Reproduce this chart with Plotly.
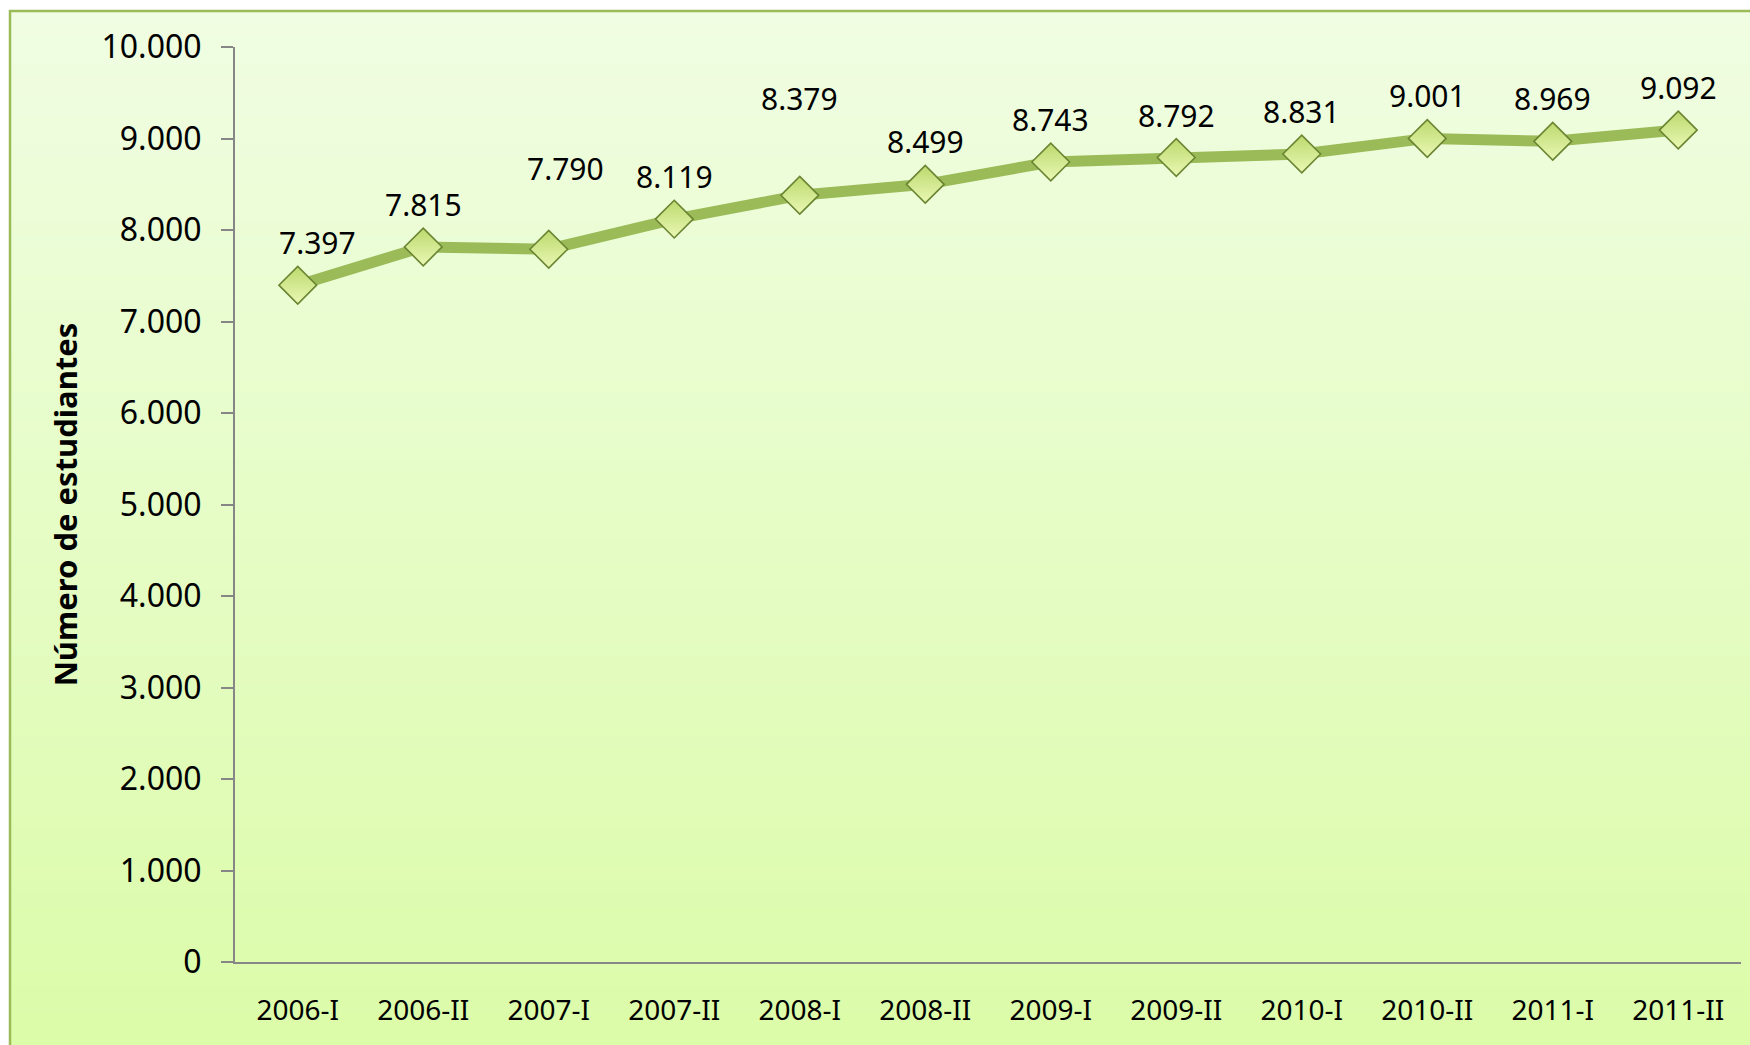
import plotly.graph_objects as go

# ---- data ----
periods = ["2006-I", "2006-II", "2007-I", "2007-II", "2008-I", "2008-II",
           "2009-I", "2009-II", "2010-I", "2010-II", "2011-I", "2011-II"]
students = [7397, 7815, 7790, 8119, 8379, 8499, 8743, 8792, 8831, 9001, 8969, 9092]
y_ticks = [0, 1000, 2000, 3000, 4000, 5000, 6000, 7000, 8000, 9000, 10000]
y_title = "Número de estudiantes"

# ---- style / layout constants ----
W, H = 1750, 1045
ML, MR, MT, MB = 235, 9, 47, 83
PW, PH = W - ML - MR, H - MT - MB
FONT = "Noto Sans"
# extra upward / sideways nudges for labels that were moved in the original
label_raise = {2: 38, 4: 54}
label_side = {0: 20, 2: 17}


def px_to_paper_x(px):
    return (px - ML) / PW


def px_to_paper_y(py):
    return (H - MB - py) / PH


fig = go.Figure()
fig.add_trace(go.Scatter(
    x=periods, y=students, mode="lines+markers",
    line=dict(color="#9bbb59", width=11),
    marker=dict(symbol="diamond", size=29, color="#bcd96e",
                gradient=dict(type="vertical", color="#eaf8b4"),
                line=dict(color="#6a8532", width=1.6)),
    hoverinfo="skip", showlegend=False,
))

# data labels
for i, (p, v) in enumerate(zip(periods, students)):
    fig.add_annotation(
        x=p, y=v, xref="x", yref="y",
        text=f"{v:,}".replace(",", "."),
        showarrow=False, yanchor="bottom",
        yshift=20 + label_raise.get(i, 0), xshift=label_side.get(i, 0),
        font=dict(family=FONT, size=30, color="#000000"),
    )

# background gradient box with border
top = (240, 253, 226)
bot = (219, 252, 168)
x0, x1 = px_to_paper_x(10), px_to_paper_x(W + 20)
ytop, ybot = px_to_paper_y(11), px_to_paper_y(H + 20)
N = 80
shapes = []
for k in range(N):
    t = k / (N - 1)
    c = tuple(round(top[j] + (bot[j] - top[j]) * t) for j in range(3))
    ya = ytop + (ybot - ytop) * k / N
    yb = ytop + (ybot - ytop) * (k + 1) / N
    shapes.append(dict(type="rect", xref="paper", yref="paper",
                       x0=x0, x1=x1, y0=yb - 0.001, y1=ya,
                       fillcolor="rgb(%d,%d,%d)" % c, line=dict(width=0),
                       layer="below"))
shapes.append(dict(type="rect", xref="paper", yref="paper",
                   x0=x0, x1=x1, y0=ybot, y1=ytop,
                   fillcolor="rgba(0,0,0,0)",
                   line=dict(color="#9bbb59", width=2.5), layer="below"))

fig.update_layout(
    width=W, height=H,
    margin=dict(l=ML, r=MR, t=MT, b=MB, pad=0),
    paper_bgcolor="white", plot_bgcolor="rgba(0,0,0,0)",
    separators=",.",
    shapes=shapes,
    font=dict(family=FONT, color="#000000"),
    xaxis=dict(
        type="category", range=[-0.5, len(periods) - 0.5],
        showline=True, linecolor="#868686", linewidth=2,
        ticks="", showgrid=False, zeroline=False,
        tickfont=dict(family=FONT, size=28, color="#000000"),
        ticklabelstandoff=22,
    ),
    yaxis=dict(
        range=[0, 10000], tickvals=y_ticks, tickformat=",d",
        showline=True, linecolor="#868686", linewidth=2,
        ticks="outside", ticklen=12, tickcolor="#868686", tickwidth=2,
        showgrid=False, zeroline=False,
        tickfont=dict(family=FONT, size=32, color="#000000"),
        ticklabelstandoff=13,
        title=dict(text="<b>" + y_title + "</b>", standoff=15,
                   font=dict(family=FONT, size=31, color="#000000")),
    ),
)

fig.write_html("out.html",
               config={"displayModeBar": False},
               post_script="document.body.style.margin='0';"
                           "document.body.style.overflow='hidden';")
